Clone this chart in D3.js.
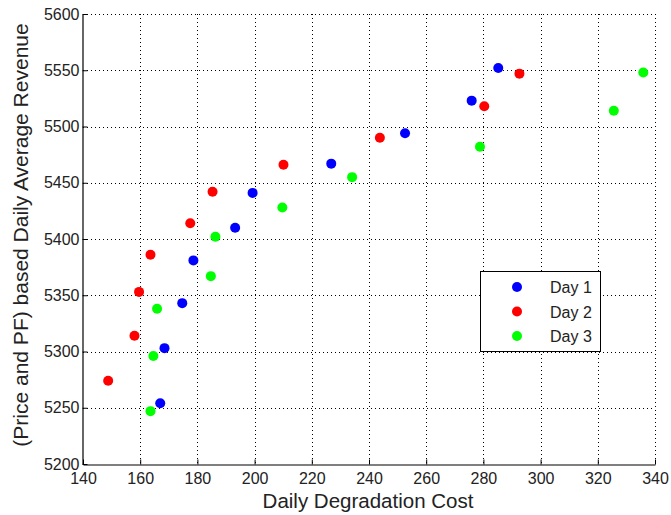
<!DOCTYPE html>
<html>
<head>
<meta charset="utf-8">
<script src="https://cdn.jsdelivr.net/npm/d3@7"></script>
<style>
  body { margin: 0; background: #fff; }
  svg { display: block; font-family: "Liberation Sans", Arial, sans-serif; }
</style>
</head>
<body>
<svg id="chart" width="671" height="515"></svg>
<script>
// Degradation cost vs. revenue, one series per day
const day1Cost = [226.8, 199.3, 193.2, 178.6, 174.7, 168.5, 167.0, 252.6, 275.9, 285.2];
const day1Rev  = [5467, 5441, 5410, 5381, 5343, 5303, 5254, 5494, 5523, 5552];
const day2Cost = [210.1, 185.3, 177.5, 163.6, 159.6, 158.0, 148.8, 243.8, 280.3, 292.6];
const day2Rev  = [5466, 5442, 5414, 5386, 5353, 5314, 5274, 5490, 5518, 5547];
const day3Cost = [209.7, 186.3, 184.7, 165.9, 164.6, 163.6, 234.1, 278.8, 325.6, 335.9];
const day3Rev  = [5428, 5402, 5367, 5338, 5296, 5247, 5455, 5482, 5514, 5548];

const seriesNames = ["Day 1", "Day 2", "Day 3"];
const seriesColors = ["#0000ff", "#ff0000", "#00ff00"];
const xTicks = [140, 160, 180, 200, 220, 240, 260, 280, 300, 320, 340];
const yTicks = [5200, 5250, 5300, 5350, 5400, 5450, 5500, 5550, 5600];

const series = [
  { name: seriesNames[0], color: seriesColors[0], pts: day1Cost.map((c, i) => [c, day1Rev[i]]) },
  { name: seriesNames[1], color: seriesColors[1], pts: day2Cost.map((c, i) => [c, day2Rev[i]]) },
  { name: seriesNames[2], color: seriesColors[2], pts: day3Cost.map((c, i) => [c, day3Rev[i]]) }
];

const svg = d3.select("#chart");
const plotL = 83, plotR = 655, plotT = 14, plotB = 464;

const x = d3.scaleLinear().domain([140, 340]).range([plotL, plotR]);
const y = d3.scaleLinear().domain([5200, 5600]).range([plotB, plotT]);

// dotted grid
const grid = svg.append("g").attr("stroke", "#000").attr("stroke-width", 1)
  .attr("stroke-dasharray", "1,3").attr("shape-rendering", "crispEdges");
grid.selectAll("line.v").data(xTicks.slice(1)).join("line")
  .attr("x1", d => Math.round(x(d)) + 0.5).attr("x2", d => Math.round(x(d)) + 0.5)
  .attr("y1", plotT).attr("y2", plotB);
grid.selectAll("line.h").data(yTicks.slice(1)).join("line")
  .attr("y1", d => Math.round(y(d)) + 0.5).attr("y2", d => Math.round(y(d)) + 0.5)
  .attr("x1", plotL).attr("x2", plotR);

// axes
const xAxis = d3.axisBottom(x).tickValues(xTicks).tickFormat(d3.format("d"))
  .tickSize(-5).tickPadding(8).tickSizeOuter(0);
const yAxis = d3.axisLeft(y).tickValues(yTicks).tickFormat(d3.format("d"))
  .tickSize(-5).tickPadding(3).tickSizeOuter(0);

const gx = svg.append("g").attr("transform", `translate(0,${plotB + 0.5})`).call(xAxis);
const gy = svg.append("g").attr("transform", `translate(${plotL - 0.5},0)`).call(yAxis);
[gx, gy].forEach(g => {
  g.select(".domain").attr("stroke", "#000").attr("stroke-width", 1.2);
  g.selectAll(".tick line").attr("stroke", "#000");
  g.selectAll(".tick text").attr("fill", "#222").style("font-size", "16px")
    .style("font-family", "'Liberation Sans', Arial, sans-serif");
});

// axis titles
svg.append("text").attr("x", (plotL + plotR) / 2 - 1).attr("y", 508)
  .attr("text-anchor", "middle").attr("fill", "#222").style("font-size", "20.5px")
  .text("Daily Degradation Cost");
svg.append("text").attr("transform", `translate(28,235) rotate(-90)`)
  .attr("text-anchor", "middle").attr("fill", "#222").style("font-size", "21px")
  .text("(Price and PF) based Daily Average Revenue");

// points
series.forEach(s => {
  svg.append("g").selectAll("circle").data(s.pts).join("circle")
    .attr("cx", d => x(d[0])).attr("cy", d => y(d[1])).attr("r", 5)
    .attr("fill", s.color);
});

// legend
const lg = svg.append("g");
lg.append("rect").attr("x", 480.5).attr("y", 271.5).attr("width", 120).attr("height", 80)
  .attr("fill", "#fff").attr("stroke", "#000").attr("stroke-width", 1);
series.forEach((s, i) => {
  const cy = 287 + i * 24.5;
  lg.append("circle").attr("cx", 517).attr("cy", cy).attr("r", 5).attr("fill", s.color);
  lg.append("text").attr("x", 550).attr("y", cy + 6).attr("fill", "#222")
    .style("font-size", "16px").text(s.name);
});
</script>
</body>
</html>
